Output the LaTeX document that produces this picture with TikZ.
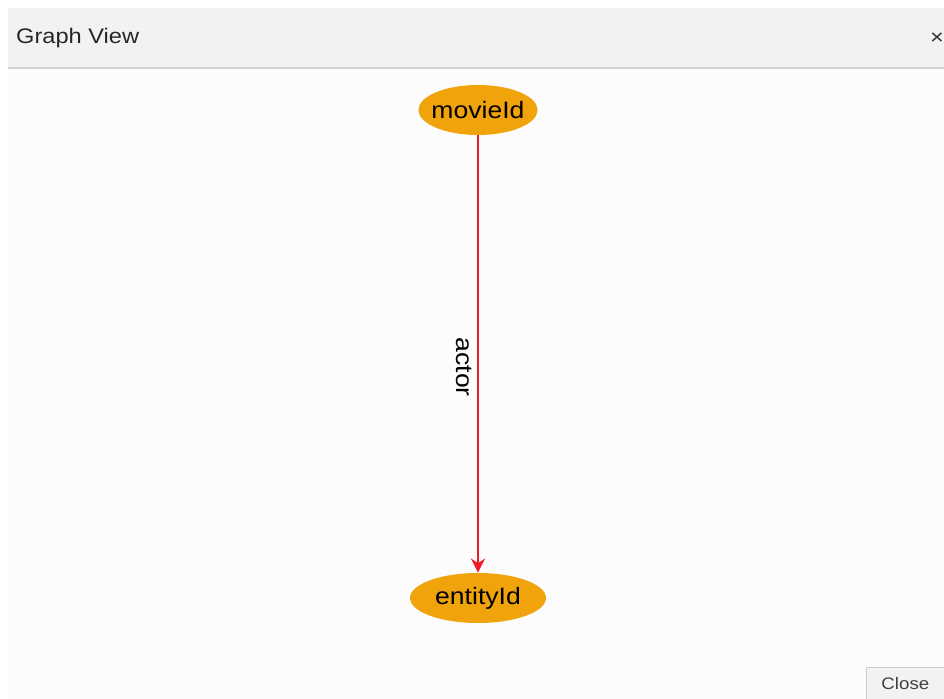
\documentclass[tikz,border=0pt]{standalone}
\usepackage{fontspec}
\setmainfont{Liberation Sans}[FakeStretch=1.12]
\usetikzlibrary{arrows.meta,shapes.geometric}
\definecolor{hdrgray}{RGB}{241,242,244}
\definecolor{bodygray}{RGB}{252,252,252}
\definecolor{nodeorange}{RGB}{240,163,10}
\definecolor{edgered}{RGB}{238,28,37}

\begin{document}
\begin{tikzpicture}[x=0.02cm,y=-0.02cm,>=Stealth,font=\fontsize{13.5}{16}\selectfont]
\tikzstyle{vert}=[ellipse,fill=nodeorange,inner xsep=-2.5pt,inner ysep=0pt,minimum height=50*0.02cm]
\tikzstyle{btn}=[draw=gray!40,fill=hdrgray,minimum width=78*0.02cm,minimum height=32*0.02cm,font=\fontsize{9.5}{11}\selectfont,text=black!75]
\useasboundingbox (0,0) rectangle (944,699);
\fill[white] (0,0) rectangle (944,699);
\fill[bodygray] (8,68) rectangle (944,699);
\fill[hdrgray] (8,8) rectangle (944,68);
\draw[gray!35,line width=1pt] (8,68) -- (944,68);
\node[anchor=west,font=\fontsize{12}{14}\selectfont,text=black!85] (title) at (10,38) {Graph View};
\node[font=\fontsize{12}{14}\selectfont,text=black!80] (closex) at (937,39) {×};
\node[vert,minimum width=118*0.02cm] (movieId) at (478,110) {movieId};
\node[vert,minimum width=136*0.02cm] (entityId) at (478,598) {entityId};
\draw[edgered,line width=1.3pt,-{Stealth[length=8pt,width=8pt]}] (movieId) -- (entityId) node[pos=0.53,rotate=-90,anchor=north,inner sep=3pt,text=black] (actor) {actor};
\node[btn,anchor=north west] (close) at (866,667) {Close};
\end{tikzpicture}
\end{document}
